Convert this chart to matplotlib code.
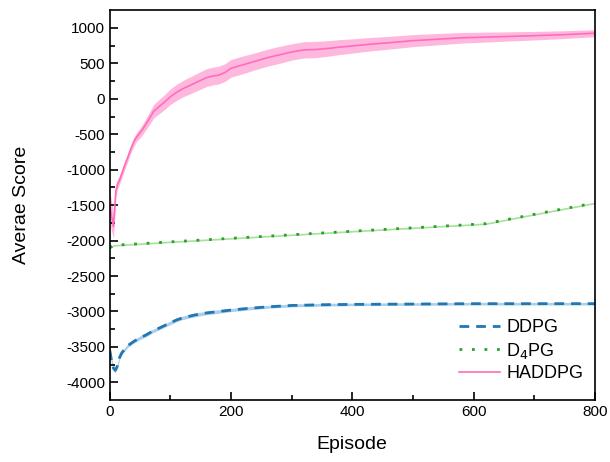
import matplotlib.pyplot as plt
import numpy as np

plt.rcParams["font.family"] = ["Liberation Sans", "DejaVu Sans"]
plt.rcParams["axes.unicode_minus"] = False

# HADDPG mean score and half-width of the shaded band
ep_ha = [0, 2, 4, 6, 8, 10, 13, 16, 20, 25, 30, 35, 40, 45, 50, 55, 60, 66, 72, 80,
         90, 100, 110, 120, 130, 140, 150, 160, 170, 180, 190, 200, 220, 240, 260,
         280, 300, 320, 340, 360, 380, 400, 430, 460, 500, 540, 580, 620, 660, 700,
         750, 800]
score_ha = [-1500, -1620, -1700, -1800, -1560, -1300, -1200, -1150, -1050, -930,
            -820, -700, -600, -530, -480, -420, -350, -270, -180, -120, -50, 30,
            90, 140, 180, 220, 260, 300, 320, 335, 370, 430, 480, 530, 580, 620,
            660, 690, 695, 710, 730, 745, 770, 790, 820, 840, 860, 870, 880, 890,
            905, 925]
band_ha = [200, 220, 200, 170, 150, 90, 70, 60, 60, 60, 60, 60, 65, 65, 70, 75, 80,
           90, 95, 100, 105, 110, 115, 115, 120, 120, 125, 125, 125, 125, 125, 125,
           125, 120, 120, 120, 115, 115, 115, 110, 105, 100, 95, 90, 85, 80, 75,
           70, 65, 60, 55, 50]

# DDPG mean score and band
ep_dd = [0, 3, 6, 9, 12, 16, 20, 25, 30, 40, 50, 60, 70, 80, 90, 100, 110, 120,
         140, 160, 180, 200, 230, 260, 300, 350, 400, 500, 600, 700, 800]
score_dd = [-3550, -3700, -3800, -3830, -3780, -3650, -3580, -3530, -3480, -3420,
            -3370, -3330, -3280, -3240, -3200, -3160, -3120, -3090, -3050, -3020,
            -3000, -2980, -2955, -2935, -2915, -2905, -2900, -2895, -2890, -2890,
            -2890]
band_dd = [40, 40, 35, 35, 30, 30, 25, 25, 25, 25, 25, 25, 25, 25, 25, 25, 25, 25,
           25, 25, 25, 22, 22, 20, 20, 20, 18, 18, 18, 18, 18]

# D4PG mean score and band
ep_d4 = [0, 6, 10, 100, 200, 300, 400, 500, 620, 700, 800]
score_d4 = [-2100, -2070, -2065, -2018, -1968, -1918, -1868, -1820, -1762, -1630,
            -1470]
band_d4 = [15, 12, 12, 12, 12, 12, 12, 12, 12, 12, 12]

fig, ax = plt.subplots(figsize=(6.1, 4.62), dpi=100)
fig.subplots_adjust(left=0.18, right=0.975, top=0.978, bottom=0.134)

ep_dd, score_dd, band_dd = map(np.array, (ep_dd, score_dd, band_dd))
ep_d4, score_d4, band_d4 = map(np.array, (ep_d4, score_d4, band_d4))
ep_ha, score_ha, band_ha = map(np.array, (ep_ha, score_ha, band_ha))

ax.fill_between(ep_dd, score_dd - band_dd, score_dd + band_dd, color="#a9cfea", lw=0)
ax.plot(ep_dd, score_dd, color="#1f77b4", lw=2, linestyle=(0, (3.5, 2.5)), label="DDPG")

ax.fill_between(ep_d4, score_d4 - band_d4, score_d4 + band_d4, color="#a8e09c", lw=0)
ax.plot(ep_d4, score_d4, color="#2ca02c", lw=2, linestyle=(0, (1, 3.5)), label="D$_4$PG")

ax.fill_between(ep_ha, score_ha - band_ha, score_ha + band_ha, color="#ffb8dd", lw=0)
ax.plot(ep_ha, score_ha, color="#ff6cbc", lw=1.2, label="HADDPG")

ax.set_xlim(0, 800)
ax.set_ylim(-4250, 1250)
ax.set_xticks(np.arange(0, 801, 200))
ax.set_xticks(np.arange(0, 801, 100), minor=True)
ax.set_yticks(np.arange(-4000, 1001, 500))
ax.set_yticks(np.arange(-4000, 1001, 250), minor=True)
ax.tick_params(which="both", direction="in", labelsize=11, width=1.2)
ax.tick_params(which="major", length=6)
ax.tick_params(which="minor", length=3.5)
for s in ax.spines.values():
    s.set_linewidth(1.2)

ax.set_xlabel("Episode", fontsize=14, labelpad=12)
ax.set_ylabel("Averae Score", fontsize=14, labelpad=26)
ax.legend(loc="lower right", bbox_to_anchor=(1.014, 0.0), frameon=False,
          fontsize=13, handlelength=2.3, handletextpad=0.35, labelspacing=0.25,
          borderaxespad=0.6)

fig.savefig("out.png", dpi=100)
